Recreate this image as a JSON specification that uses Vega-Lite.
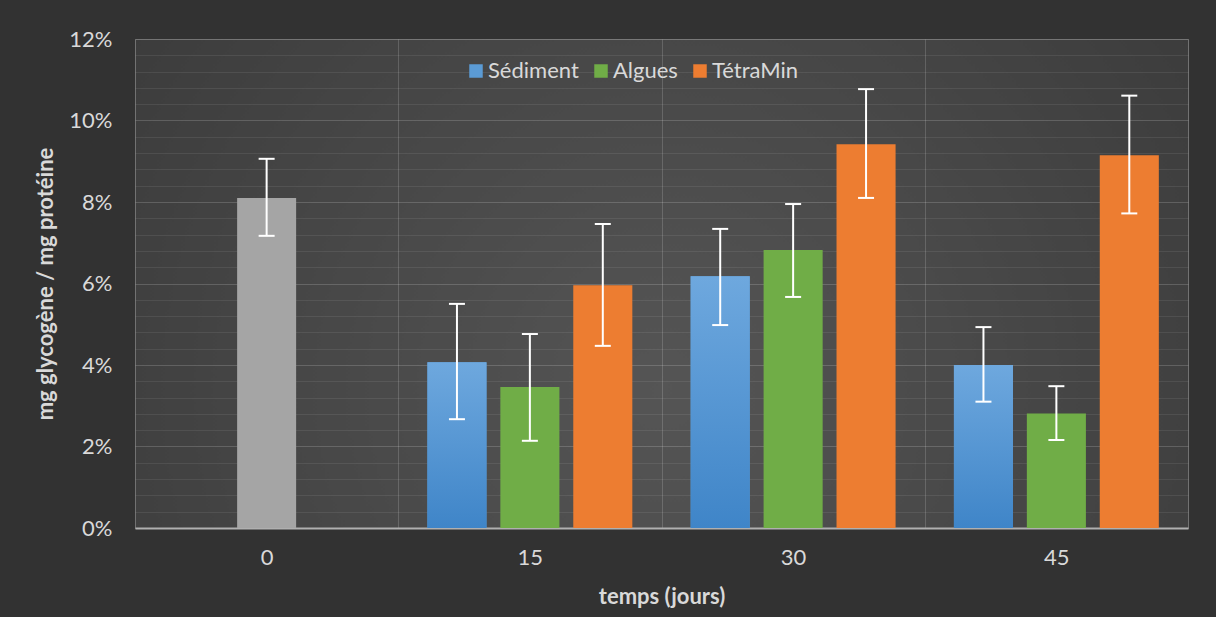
{
  "$schema": "https://vega.github.io/schema/vega-lite/v6.json",
  "width": 1053,
  "height": 489,
  "autosize": "none",
  "padding": {"left": 135, "top": 39, "right": 28, "bottom": 89},
  "background": "#323232",
  "config": {
    "font": "Lato",
    "view": {
      "stroke": "rgba(255,255,255,0.16)",
      "strokeWidth": 1,
      "fill": {"gradient": "radial", "x1": 0.5, "y1": 0.6, "r1": 0, "x2": 0.5, "y2": 0.6, "r2": 0.75,
        "stops": [{"offset": 0, "color": "#555555"}, {"offset": 1, "color": "#363636"}]}
    }
  },
  "data": {"values": [
    {"temps": 0, "serie": "Témoin", "valeur": 0.081, "bas": 0.0717, "haut": 0.0906},
    {"temps": 15, "serie": "Sédiment", "valeur": 0.0407, "bas": 0.0267, "haut": 0.055},
    {"temps": 15, "serie": "Algues", "valeur": 0.0346, "bas": 0.0214, "haut": 0.0476},
    {"temps": 15, "serie": "TétraMin", "valeur": 0.0596, "bas": 0.0447, "haut": 0.0746},
    {"temps": 30, "serie": "Sédiment", "valeur": 0.0618, "bas": 0.0498, "haut": 0.0734},
    {"temps": 30, "serie": "Algues", "valeur": 0.0682, "bas": 0.0567, "haut": 0.0795},
    {"temps": 30, "serie": "TétraMin", "valeur": 0.0942, "bas": 0.081, "haut": 0.1077},
    {"temps": 45, "serie": "Sédiment", "valeur": 0.04, "bas": 0.031, "haut": 0.0493},
    {"temps": 45, "serie": "Algues", "valeur": 0.0281, "bas": 0.0216, "haut": 0.0348},
    {"temps": 45, "serie": "TétraMin", "valeur": 0.0915, "bas": 0.0772, "haut": 0.1061}
  ]},
  "encoding": {
    "x": {
      "field": "temps", "type": "ordinal",
      "scale": {"domain": [0, 15, 30, 45], "paddingInner": 0, "paddingOuter": 0},
      "axis": {
        "title": "temps (jours)", "labelAngle": 0,
        "labelFontSize": 22, "labelColor": "#d9d9d9", "labelPadding": 19,
        "ticks": false, "tickBand": "extent",
        "grid": true, "gridColor": "rgba(255,255,255,0.16)",
        "domainColor": "#b0b0b0", "domainWidth": 2,
        "titleFontSize": 22, "titleFontWeight": "bold", "titleColor": "#d9d9d9", "titlePadding": 18
      }
    }
  },
  "layer": [
    {
      "transform": [{"filter": "datum.serie == 'Témoin'"}],
      "mark": {"type": "bar", "width": 59},
      "encoding": {
        "y": {
          "field": "valeur", "type": "quantitative",
          "scale": {"domain": [0, 0.12], "nice": false},
          "axis": {
            "title": "mg glycogène / mg protéine",
            "values": [0, 0.004, 0.008, 0.012, 0.016, 0.02, 0.024, 0.028, 0.032, 0.036, 0.04, 0.044, 0.048, 0.052, 0.056, 0.06, 0.064, 0.068, 0.072, 0.076, 0.08, 0.084, 0.088, 0.092, 0.096, 0.1, 0.104, 0.108, 0.112, 0.116, 0.12],
            "tickCount": 40,
            "labelExpr": "abs(datum.value*50 - round(datum.value*50)) < 0.01 ? format(datum.value, '.0%') : ''",
            "labelOverlap": false, "labelBound": false,
            "labelFontSize": 22, "labelColor": "#d9d9d9", "labelPadding": 23,
            "ticks": false, "domain": false,
            "grid": true,
            "gridColor": {"condition": {"test": "abs(datum.value*50 - round(datum.value*50)) < 0.01", "value": "rgba(255,255,255,0.17)"}, "value": "rgba(255,255,255,0.08)"},
            "titleFontSize": 22, "titleFontWeight": "bold", "titleColor": "#d9d9d9", "titlePadding": 11
          }
        },
        "color": {
          "field": "serie", "type": "nominal",
          "scale": {"domain": ["Sédiment", "Algues", "TétraMin", "Témoin"], "range": ["#5b9bd5", "#70ad47", "#ed7d31", "#a5a5a5"]},
          "legend": {
            "values": ["Sédiment", "Algues", "TétraMin"],
            "orient": "none", "direction": "horizontal", "legendX": 330, "legendY": 21,
            "title": null, "padding": 0,
            "symbolType": "square", "symbolSize": 182, "symbolStrokeWidth": 0, "symbolOpacity": 1,
            "labelFontSize": 22, "labelColor": "#d9d9d9", "labelOffset": 1, "columnPadding": 11
          }
        }
      }
    },
    {
      "transform": [{"filter": "datum.serie != 'Témoin'"}],
      "mark": {"type": "bar"},
      "encoding": {
        "xOffset": {"field": "serie", "type": "nominal", "scale": {"domain": ["Sédiment", "Algues", "TétraMin"], "paddingInner": 0.19, "paddingOuter": 0.4}},
        "y": {"field": "valeur", "type": "quantitative"},
        "color": {"field": "serie", "type": "nominal"}
      }
    },
    {
      "transform": [{"filter": "datum.serie == 'Sédiment'"}],
      "mark": {"type": "bar", "fill": {"gradient": "linear", "x1": 0, "y1": 0, "x2": 0, "y2": 1,
        "stops": [{"offset": 0, "color": "#6ea8de"}, {"offset": 1, "color": "#3f85c8"}]}},
      "encoding": {
        "xOffset": {"field": "serie", "type": "nominal"},
        "y": {"field": "valeur", "type": "quantitative"}
      }
    },
    {
      "transform": [{"filter": "datum.serie == 'Témoin'"}],
      "mark": {"type": "rule", "color": "white", "strokeWidth": 2},
      "encoding": {"y": {"field": "bas", "type": "quantitative"}, "y2": {"field": "haut"}}
    },
    {
      "transform": [{"filter": "datum.serie == 'Témoin'"}],
      "mark": {"type": "tick", "color": "white", "size": 16, "thickness": 2, "orient": "horizontal", "opacity": 1},
      "encoding": {"y": {"field": "bas", "type": "quantitative"}}
    },
    {
      "transform": [{"filter": "datum.serie == 'Témoin'"}],
      "mark": {"type": "tick", "color": "white", "size": 16, "thickness": 2, "orient": "horizontal", "opacity": 1},
      "encoding": {"y": {"field": "haut", "type": "quantitative"}}
    },
    {
      "transform": [{"filter": "datum.serie != 'Témoin'"}],
      "mark": {"type": "rule", "color": "white", "strokeWidth": 2},
      "encoding": {
        "xOffset": {"field": "serie", "type": "nominal"},
        "y": {"field": "bas", "type": "quantitative"}, "y2": {"field": "haut"}
      }
    },
    {
      "transform": [{"filter": "datum.serie != 'Témoin'"}],
      "mark": {"type": "tick", "color": "white", "size": 16, "thickness": 2, "orient": "horizontal", "opacity": 1},
      "encoding": {"xOffset": {"field": "serie", "type": "nominal"}, "y": {"field": "bas", "type": "quantitative"}}
    },
    {
      "transform": [{"filter": "datum.serie != 'Témoin'"}],
      "mark": {"type": "tick", "color": "white", "size": 16, "thickness": 2, "orient": "horizontal", "opacity": 1},
      "encoding": {"xOffset": {"field": "serie", "type": "nominal"}, "y": {"field": "haut", "type": "quantitative"}}
    }
  ]
}
